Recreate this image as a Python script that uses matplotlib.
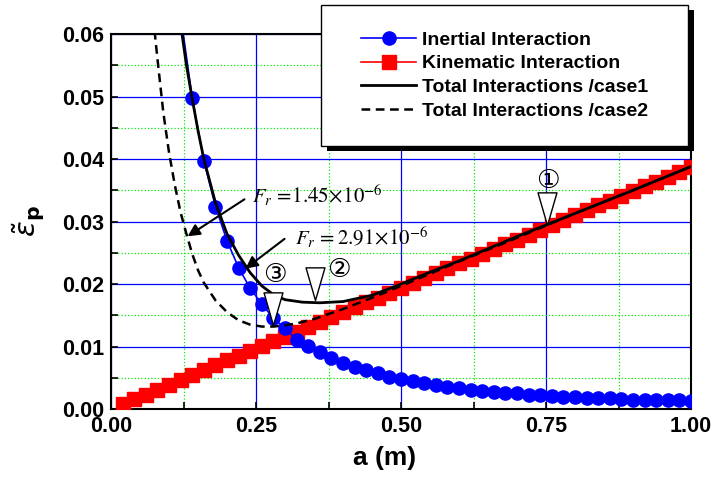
import numpy as np
import matplotlib
matplotlib.use('Agg')
import matplotlib.pyplot as plt
import matplotlib.ticker as ticker
from matplotlib.path import Path
from matplotlib.patches import Rectangle

plt.rcParams['font.family'] = ['Liberation Sans', 'DejaVu Sans']

# inertial interaction (blue dots), a = 0.12 .. 1.00 step 0.02
a_inertial = np.linspace(0.12, 1.0, 45)
eps_inertial = [0.0630, 0.0497, 0.0397, 0.0324, 0.0269, 0.0226, 0.0193, 0.0168, 0.0145,
                0.0129, 0.0111, 0.0101, 0.0091, 0.0082, 0.0074, 0.0068, 0.0062, 0.0057,
                0.0052, 0.0048, 0.0045, 0.0042, 0.0038, 0.0036, 0.0033, 0.0031, 0.0029,
                0.0027, 0.0026, 0.0025, 0.0023, 0.0022, 0.0021, 0.0020, 0.0019, 0.0018,
                0.0017, 0.0017, 0.0016, 0.0015, 0.0015, 0.0014, 0.0014, 0.0014, 0.0013]

# kinematic interaction (red squares), a = 0.02 .. 1.00 step 0.02
a_kinematic = np.linspace(0.02, 1.0, 50)
eps_kinematic = [0.0008, 0.0016, 0.0023, 0.0031, 0.0039, 0.0047, 0.0054, 0.0062, 0.0070, 0.0078,
                 0.0085, 0.0093, 0.0101, 0.0109, 0.0116, 0.0124, 0.0132, 0.0140, 0.0147, 0.0155,
                 0.0163, 0.0171, 0.0178, 0.0186, 0.0194, 0.0202, 0.0209, 0.0217, 0.0225, 0.0233,
                 0.0240, 0.0248, 0.0256, 0.0264, 0.0271, 0.0279, 0.0287, 0.0295, 0.0302, 0.0310,
                 0.0318, 0.0326, 0.0333, 0.0341, 0.0349, 0.0357, 0.0364, 0.0372, 0.0380, 0.0388]

# total interactions, case 1 (solid)
a_case1 = [0.12, 0.13, 0.14, 0.15, 0.16, 0.18, 0.20, 0.22, 0.24, 0.26, 0.28, 0.30, 0.33,
           0.36, 0.40, 0.45, 0.50, 0.55, 0.60, 0.70, 0.80, 0.90, 1.00]
eps_case1 = [0.0615, 0.0550, 0.0496, 0.0445, 0.0400, 0.0330, 0.0280, 0.0246, 0.0218, 0.0197,
             0.0183, 0.0175, 0.0171, 0.0170, 0.0172, 0.0182, 0.0200, 0.0219, 0.0237, 0.0276,
             0.0313, 0.0350, 0.0388]

# total interactions, case 2 (dashed)
a_case2 = [0.075, 0.08, 0.09, 0.10, 0.11, 0.12, 0.13, 0.14, 0.15, 0.16, 0.18, 0.20, 0.22,
           0.24, 0.26, 0.28, 0.30, 0.32, 0.35, 0.40, 0.45, 0.50, 0.60, 0.70, 0.80, 0.90, 1.00]
eps_case2 = [0.0605, 0.0560, 0.0475, 0.0410, 0.0358, 0.0314, 0.0280, 0.0248, 0.0222, 0.0202,
             0.0174, 0.0155, 0.0142, 0.0135, 0.0132, 0.0132, 0.0134, 0.0137, 0.0144, 0.0160,
             0.0178, 0.0197, 0.0236, 0.0274, 0.0313, 0.0350, 0.0388]

labels = ['Inertial Interaction', 'Kinematic Interaction',
          'Total Interactions /case1', 'Total Interactions /case2']

# marked points 1..3 (triangle tips) and circled numbers
mark_a = [0.752, 0.352, 0.279]
mark_eps = [0.0294, 0.0174, 0.0134]
mark_text = ['\u2460', '\u2461', '\u2462']
mark_text_a = [0.753, 0.393, 0.283]
mark_text_eps = [0.0365, 0.0222, 0.0214]

fig = plt.figure(figsize=(7.12, 4.79), dpi=100)
ax = fig.add_axes([0.156, 0.146, 0.8145, 0.783])

h_kin, = ax.plot(a_kinematic, eps_kinematic, color='red', lw=1.2, marker='s', ms=9.5,
                 mec='red', mfc='red', label=labels[1], zorder=3)
h_ine, = ax.plot(a_inertial, eps_inertial, color='blue', lw=1.2, marker='o', ms=9.5,
                 mec='blue', mfc='blue', label=labels[0], zorder=4)
h_c1, = ax.plot(a_case1, eps_case1, color='black', lw=2, label=labels[2], zorder=5)
h_c2, = ax.plot(a_case2, eps_case2, color='black', lw=1.8, ls=(0, (3.5, 2.2)),
                label=labels[3], zorder=5)

ax.set_xlim(0, 1.0)
ax.set_ylim(0, 0.06)
ax.xaxis.set_major_locator(ticker.MultipleLocator(0.25))
ax.xaxis.set_minor_locator(ticker.MultipleLocator(0.125))
ax.yaxis.set_major_locator(ticker.MultipleLocator(0.01))
ax.yaxis.set_minor_locator(ticker.MultipleLocator(0.005))
ax.xaxis.set_major_formatter(ticker.FormatStrFormatter('%.2f'))
ax.yaxis.set_major_formatter(ticker.FormatStrFormatter('%.2f'))
ax.tick_params(which='both', direction='in', length=5, width=1.2)
ax.tick_params(axis='both', which='major', labelsize=15.5, pad=5)
for lab in ax.get_xticklabels() + ax.get_yticklabels():
    lab.set_fontweight('bold')
ax.grid(which='major', color='#0000ff', lw=0.9, zorder=0)
ax.grid(which='minor', color='#00ee00', lw=0.9, ls=':', zorder=0)
ax.set_axisbelow(True)
for sp in ax.spines.values():
    sp.set_linewidth(1.5)

ax.set_xlabel('a (m)', fontsize=19, fontweight='bold')
ax.xaxis.set_label_coords(0.472, -0.098)
ax.set_ylabel(r'$\tilde{\varepsilon}_\mathbf{p}$', fontsize=21)
ax.yaxis.set_label_coords(-0.11, 0.5)

# triangle markers with tip at the data point
tri = Path([(-0.29, 1.0), (0.29, 1.0), (0.0, 0.0), (-0.29, 1.0)],
           [Path.MOVETO, Path.LINETO, Path.LINETO, Path.CLOSEPOLY])
ax.plot(mark_a, mark_eps, ls='none', marker=tri, ms=47, mfc='white', mec='black',
        mew=1, zorder=7)
for xa, ya, t in zip(mark_text_a, mark_text_eps, mark_text):
    ax.text(xa, ya, t, fontsize=19, ha='center', va='center',
            family=['DejaVu Sans', 'Noto Sans CJK JP'], zorder=8)

# Froude number annotations
ax.annotate('', xy=(0.128, 0.0274), xytext=(0.234, 0.0338),
            arrowprops=dict(arrowstyle='-|>', lw=1.5, color='black', mutation_scale=18), zorder=8)
ax.annotate('', xy=(0.228, 0.0222), xytext=(0.303, 0.0275),
            arrowprops=dict(arrowstyle='-|>', lw=1.5, color='black', mutation_scale=18), zorder=8)
ax.text(0.243, 0.0342, r'$F_r\,=\!1.45\!\times\!10^{-6}$', fontsize=15,
        math_fontfamily='stix', ha='left', va='center', zorder=8)
ax.text(0.317, 0.0274, r'$F_r\,=2.91\!\times\!10^{-6}$', fontsize=15,
        math_fontfamily='stix', ha='left', va='center', zorder=8)

# legend box with drop shadow
W, H = 712.0, 479.0
x0, y0, x1, y1 = 321 / W, 1 - 146 / H, 688 / W, 1 - 5 / H
fig.patches.append(Rectangle((x0 + 6 / W, y0 - 5 / H), x1 - x0, y1 - y0, transform=fig.transFigure,
                             facecolor='black', edgecolor='none', zorder=9))
fig.patches.append(Rectangle((x0, y0), x1 - x0, y1 - y0, transform=fig.transFigure,
                             facecolor='white', edgecolor='black', lw=1, zorder=10))
leg = ax.legend([h_ine, h_kin, h_c1, h_c2], labels, loc='center',
                bbox_to_anchor=((x0 + x1) / 2, (y0 + y1) / 2),
                bbox_transform=fig.transFigure, frameon=False,
                prop={'weight': 'bold', 'size': 14}, handlelength=2.8, handletextpad=0.3,
                labelspacing=0.32)
leg.set_zorder(11)
leg.set_in_layout(False)
fig.legends.append(leg)
ax.legend_ = None

fig.savefig('out.png', dpi=100)
